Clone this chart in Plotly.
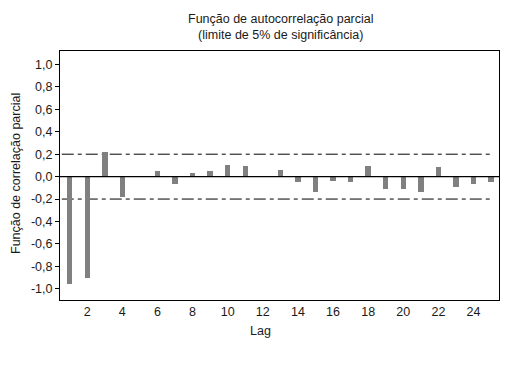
import plotly.graph_objects as go

lags = list(range(1, 26))
pacf = [-0.955, -0.90, 0.22, -0.18, 0.0, 0.05, -0.065, 0.033, 0.05, 0.105,
        0.095, 0.0, 0.06, -0.045, -0.135, -0.035, -0.045, 0.095, -0.107, -0.107,
        -0.135, 0.087, -0.09, -0.063, -0.045]
limit = 0.2
y_ticks = [1.0, 0.8, 0.6, 0.4, 0.2, 0.0, -0.2, -0.4, -0.6, -0.8, -1.0]
y_ticktext = ["1,0", "0,8", "0,6", "0,4", "0,2", "0,0", "-0,2", "-0,4", "-0,6", "-0,8", "-1,0"]
x_ticks = list(range(2, 25, 2))

FONT = "Liberation Sans, Arial, sans-serif"
TXT = "#1a1a1a"
L, R, T, B = 60, 499, 51, 300
W, H = 524, 368
PW, PH = R - L, B - T

fig = go.Figure()
fig.add_trace(go.Bar(x=lags, y=pacf, width=0.31, marker=dict(color="#808080", line=dict(width=0)),
                     showlegend=False))

for yv in (limit, -limit):
    fig.add_shape(type="line", xref="x", yref="y", x0=0.55, x1=25.0, y0=yv, y1=yv,
                  line=dict(color="black", width=1, dash="12px,4px,4px,4px"), layer="below")
fig.add_shape(type="line", xref="paper", yref="y", x0=0, x1=1, y0=0, y1=0,
              line=dict(color="black", width=1.2), layer="above")

fig.update_layout(
    width=W, height=H,
    margin=dict(l=L, r=W - R, t=T, b=H - B, autoexpand=False),
    paper_bgcolor="white", plot_bgcolor="white",
    font=dict(family=FONT, size=12, color=TXT),
    bargap=0,
    xaxis=dict(range=[0.45, 25.45], tickmode="array", tickvals=x_ticks,
               ticks="", showgrid=False, zeroline=False, automargin=False,
               showline=True, linecolor="black", linewidth=1, mirror=True,
               tickfont=dict(size=12.5, color=TXT)),
    yaxis=dict(range=[-1.10, 1.12], tickmode="array", tickvals=y_ticks, ticktext=y_ticktext,
               ticks="outside", ticklen=4, tickcolor="black", showgrid=False, zeroline=False,
               automargin=False,
               showline=True, linecolor="black", linewidth=1, mirror=True,
               tickfont=dict(size=12.5, color=TXT)),
)
fig.add_annotation(text="Função de autocorrelação parcial<br>(limite de 5% de significância)",
                   xref="paper", yref="paper", x=(281 - L) / PW, y=(T - 10) / PH + 1,
                   xanchor="center", yanchor="top", showarrow=False, align="center",
                   font=dict(family=FONT, size=12.5, color=TXT))
fig.add_annotation(text="Lag", xref="paper", yref="paper", x=(260 - L) / PW, y=-(322 - B) / PH,
                   xanchor="center", yanchor="top", showarrow=False,
                   font=dict(family=FONT, size=12.5, color=TXT))
fig.add_annotation(text="Função de correlação parcial", xref="paper", yref="paper",
                   x=-(L - 7) / PW, y=(B - 174) / PH, xanchor="left", yanchor="middle",
                   textangle=-90, showarrow=False,
                   font=dict(family=FONT, size=12.5, color=TXT))

fig.write_html("out.html", config={"displayModeBar": False},
               post_script="document.body.style.margin='0';")
